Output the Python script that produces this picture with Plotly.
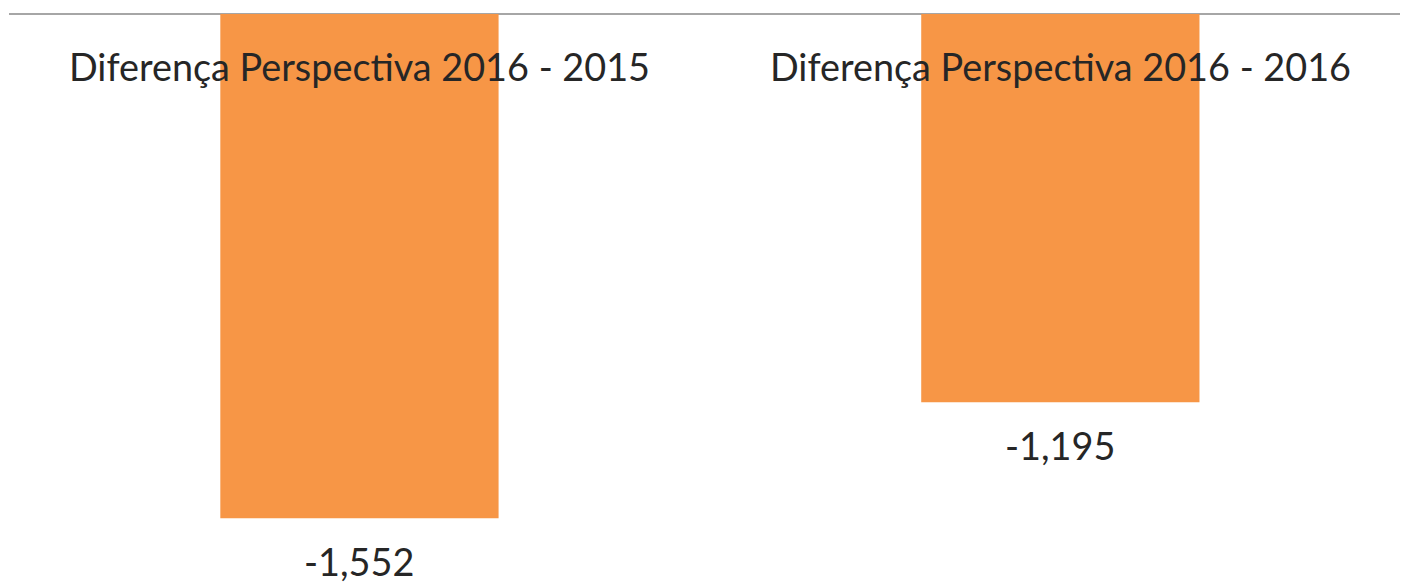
import plotly.graph_objects as go

categories = ["Diferença Perspectiva 2016 - 2015", "Diferença Perspectiva 2016 - 2016"]
values = [-1.552, -1.195]
labels = [f"{v:.3f}".replace(".", ",") for v in values]

BAR_COLOR = "#F79646"
TEXT_COLOR = "#262626"
FONT = "Lato"
FS = 37.8

fig = go.Figure()
fig.add_trace(go.Bar(
    x=categories, y=values, marker=dict(color=BAR_COLOR, line=dict(width=0)),
    width=0.397, hoverinfo="skip",
))

annotations = []
for c in categories:
    annotations.append(dict(x=c, y=0, xref="x", yref="y", text=c, showarrow=False,
                            yanchor="middle", yshift=-52,
                            font=dict(family=FONT, size=FS, color=TEXT_COLOR)))
for c, v, t in zip(categories, values, labels):
    annotations.append(dict(x=c, y=v, xref="x", yref="y", text=t, showarrow=False,
                            yanchor="middle", yshift=-43,
                            font=dict(family=FONT, size=FS, color=TEXT_COLOR)))

fig.update_layout(
    width=1400, height=575,
    margin=dict(l=1, r=0, t=0, b=0),
    paper_bgcolor="white", plot_bgcolor="white",
    showlegend=False,
    annotations=annotations,
    xaxis=dict(showticklabels=False, showgrid=False, zeroline=False, showline=False,
               range=[-0.5, 1.496], fixedrange=True),
    yaxis=dict(showticklabels=False, showgrid=False, zeroline=True, zerolinecolor="#A6A6A6",
               zerolinewidth=2, showline=False, range=[-1.751, 0.0185], fixedrange=True),
)
fig.write_html("out.html", config={"displayModeBar": False})
